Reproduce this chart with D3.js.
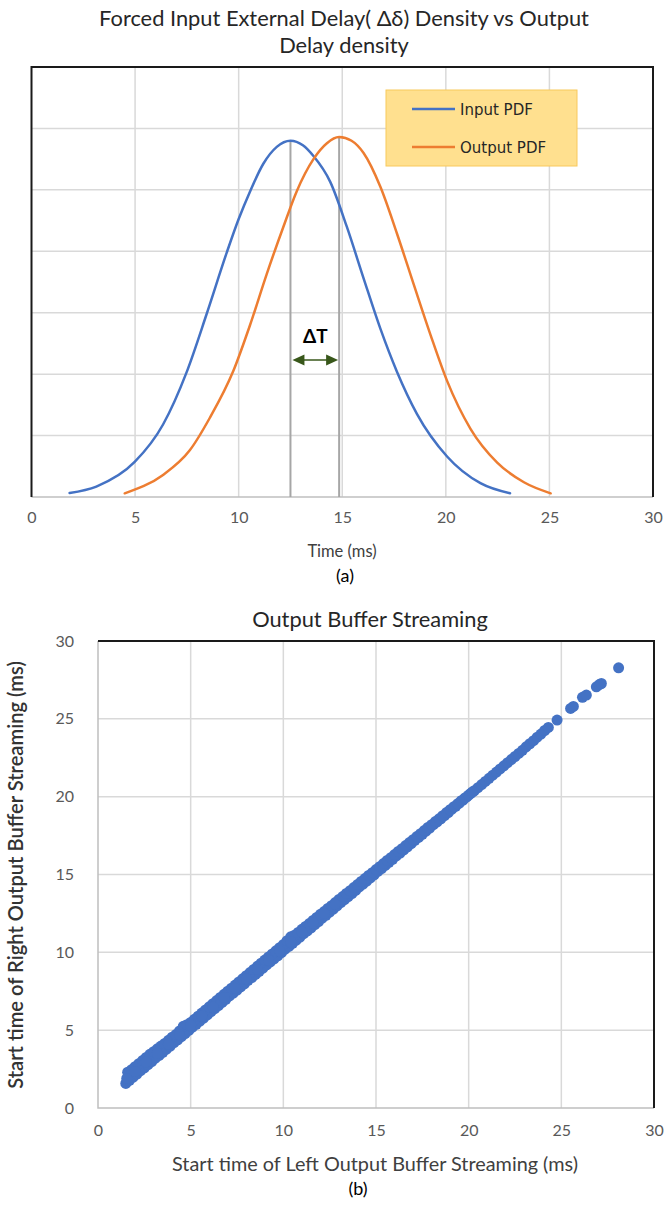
<!DOCTYPE html>
<html>
<head>
<meta charset="utf-8">
<script src="https://cdn.jsdelivr.net/npm/d3@7"></script>
<style>
  html, body { margin: 0; padding: 0; background: #ffffff; }
  svg { display: block; font-family: Lato, "Open Sans", sans-serif; }
</style>
</head>
<body>
<svg id="chart" width="667" height="1205"></svg>
<script>
// ---------------- DATA ----------------
const titleTopLines = ["Forced Input External Delay( \u0394\u03B4) Density vs Output", "Delay density"];
const titleBottom = "Output Buffer Streaming";
const xTitleTop = "Time (ms)";
const xTitleBottom = "Start time of Left Output Buffer Streaming (ms)";
const yTitleBottom = "Start time of Right Output Buffer Streaming (ms)";
const captions = ["(a)", "(b)"];
const seriesNames = ["Input PDF", "Output PDF"];

const timeTicks = [0, 5, 10, 15, 20, 25, 30];
const densityGrid = [0.02, 0.04, 0.06, 0.08, 0.10, 0.12];
const bufferTicks = [0, 5, 10, 15, 20, 25, 30];

const inputTime    = [1.84, 3.13, 4.98, 6.35, 7.48, 8.45, 9.42, 10.0, 10.55, 11.19, 11.84, 12.5, 13.1, 13.61, 14.42, 15.22, 16.03, 16.84, 17.64, 18.61, 20.06, 21.67, 23.1];
const inputDensity = [0.0013, 0.0034, 0.0114, 0.0236, 0.0405, 0.0595, 0.0795, 0.0905, 0.0995, 0.1085, 0.1140, 0.1160, 0.1145, 0.1110, 0.1026, 0.0880, 0.0712, 0.0548, 0.0408, 0.0270, 0.0132, 0.0045, 0.0012];

const outputTime    = [4.5, 6.35, 7.64, 8.61, 9.74, 10.55, 11.35, 12.16, 12.8, 13.61, 14.26, 14.85, 15.45, 16.03, 16.84, 17.64, 18.45, 19.26, 20.06, 21.19, 22.48, 23.77, 25.06];
const outputDensity = [0.0012, 0.0072, 0.0152, 0.0258, 0.0410, 0.0560, 0.0725, 0.0880, 0.0995, 0.1100, 0.1152, 0.1172, 0.1160, 0.1120, 0.1010, 0.0858, 0.0692, 0.0528, 0.0378, 0.0222, 0.0112, 0.0048, 0.0012];

const peakTimes = [12.5, 14.85];   // input peak, output peak (ΔT)
const deltaLabel = "\u0394T";

// [left start, right start] (ms) read along the streaming band
const bufferStarts = [
  // lower edge of the band
  [1.5,1.58],[1.7,1.78],[1.9,1.98],[2.1,2.18],[2.3,2.4],[2.5,2.58],[2.7,2.78],[2.9,2.98],[3.1,3.2],[3.3,3.38],
  [3.5,3.58],[3.7,3.78],[3.9,3.98],[4.1,4.2],[4.3,4.38],[4.5,4.58],[4.7,4.78],[4.9,4.98],[5.1,5.2],[5.3,5.38],
  [5.5,5.58],[5.7,5.78],[5.9,5.98],[6.1,6.2],[6.3,6.38],[6.5,6.58],[6.7,6.78],[6.9,6.98],[7.1,7.2],[7.3,7.38],
  [7.5,7.58],[7.7,7.78],[7.9,7.98],[8.1,8.2],[8.3,8.38],[8.5,8.58],[8.7,8.78],[8.9,8.98],[9.1,9.2],[9.3,9.38],
  [9.5,9.58],[9.7,9.78],[9.9,9.98],[10.1,10.2],[10.3,10.38],[10.5,10.58],[10.7,10.78],[10.9,10.98],[11.1,11.2],[11.3,11.38],
  [11.5,11.58],[11.7,11.78],[11.9,11.98],[12.1,12.2],[12.3,12.38],[12.5,12.58],[12.7,12.78],[12.9,12.98],[13.1,13.2],[13.3,13.38],
  [13.5,13.58],[13.7,13.78],[13.9,13.98],[14.1,14.2],[14.3,14.38],[14.5,14.58],[14.7,14.78],[14.9,14.98],[15.1,15.2],[15.3,15.38],
  [15.5,15.58],[15.7,15.78],[15.9,15.98],[16.1,16.2],[16.3,16.38],[16.5,16.58],[16.7,16.78],[16.9,16.98],[17.1,17.2],[17.3,17.38],
  [17.5,17.58],[17.7,17.78],[17.9,17.98],[18.1,18.2],[18.3,18.38],[18.5,18.58],[18.7,18.78],[18.9,18.98],[19.1,19.2],[19.3,19.38],
  [19.5,19.58],[19.7,19.78],[19.9,19.98],[20.1,20.2],[20.3,20.38],[20.5,20.58],[20.7,20.78],[20.9,20.98],[21.1,21.18],
  // upper edge of the band
  [1.6,2.3],[1.8,2.45],[2.0,2.65],[2.2,2.85],[2.4,3.05],[2.6,3.25],[2.8,3.45],[3.0,3.62],[3.2,3.8],[3.4,3.98],
  [3.6,4.15],[3.8,4.35],[4.0,4.55],[4.2,4.72],[4.4,4.95],[4.6,5.25],[4.8,5.35],[5.0,5.5],[5.2,5.7],[5.4,5.9],
  [5.6,6.1],[5.8,6.3],[6.0,6.5],[6.2,6.7],[6.4,6.9],[6.6,7.1],[6.8,7.3],[7.0,7.5],[7.2,7.7],[7.4,7.9],
  [7.6,8.1],[7.8,8.3],[8.0,8.5],[8.2,8.7],[8.4,8.9],[8.6,9.1],[8.8,9.3],[9.0,9.5],[9.2,9.7],[9.4,9.9],
  [9.6,10.1],[9.8,10.3],[10.0,10.5],[10.2,10.75],[10.4,11.0],[10.6,11.1],[10.8,11.28],[11.0,11.48],[11.2,11.66],[11.4,11.85],
  [11.6,12.05],[11.8,12.24],[12.0,12.44],[12.2,12.62],[12.4,12.82],[12.6,13.0],[12.8,13.2],[13.0,13.4],[13.2,13.58],[13.4,13.78],
  [13.6,13.96],[13.8,14.16],[14.0,14.35],[14.2,14.55],[14.4,14.74],[14.6,14.94],[14.8,15.12],[15.0,15.32],[15.2,15.5],[15.4,15.7],
  [15.6,15.9],[15.8,16.08],[16.0,16.28],[16.2,16.48],[16.4,16.66],[16.6,16.86],[16.8,17.05],[17.0,17.24],[17.2,17.44],[17.4,17.62],
  [17.6,17.82],[17.8,18.02],[18.0,18.2],[18.2,18.4],[18.4,18.58],[18.6,18.78],[18.8,18.98],[19.0,19.16],[19.2,19.36],[19.4,19.54],
  [19.6,19.74],[19.8,19.92],[20.0,20.1],[20.2,20.3],
  // inner points of the wide lower part
  [1.55,1.9],[2.0,2.35],[2.6,2.95],[3.2,3.5],[3.8,4.1],[4.4,4.7],[5.0,5.3],[5.6,5.9],[6.2,6.5],[6.8,7.1],
  [7.4,7.7],[8.0,8.3],[8.6,8.9],[9.2,9.5],[9.8,10.1],[10.4,10.7],[11.0,11.3],[11.6,11.9],[12.2,12.5],[12.8,13.1],
  // single-dot run and sparse tail
  [21.3,21.38],[21.5,21.58],[21.7,21.78],[21.9,21.98],[22.1,22.18],[22.3,22.38],[22.5,22.58],[22.7,22.78],[22.9,22.98],[23.1,23.2],
  [23.3,23.4],[23.5,23.6],[23.7,23.82],[23.9,24.02],[24.1,24.25],[24.3,24.45],
  [24.77,24.92],[25.5,25.67],[25.65,25.8],[26.14,26.38],[26.35,26.53],[26.89,27.06],[27.05,27.2],[27.16,27.27],[28.09,28.28]
];

// ---------------- DRAWING ----------------
const svg = d3.select("#chart");
const BLUE = "#4472C4", ORANGE = "#ED7D31", GRID = "#d9d9d9", AXIS = "#bfbfbf", LABEL = "#595959";

function fitText(sel, target) {
  const n = sel.node();
  const w = n.getComputedTextLength();
  const fs = parseFloat(sel.attr("font-size"));
  sel.attr("font-size", (fs * target / w).toFixed(2));
}

// ===== Chart (a) =====
const xA = d3.scaleLinear().domain([0, 30]).range([31.5, 653]);
const yA = d3.scaleLinear().domain([0, 0.14]).range([497, 67]);

const t1 = svg.append("text").attr("x", 344).attr("y", 26).attr("text-anchor", "middle")
  .attr("font-size", 19).attr("fill", "#262626").text(titleTopLines[0]);
fitText(t1, 490);
svg.append("text").attr("x", 344).attr("y", 53).attr("text-anchor", "middle")
  .attr("font-size", t1.attr("font-size")).attr("fill", "#262626").text(titleTopLines[1]);

const gA = svg.append("g");
gA.selectAll(".vg").data(timeTicks.slice(1, -1)).join("line")
  .attr("x1", d => xA(d)).attr("x2", d => xA(d)).attr("y1", yA(0.14)).attr("y2", yA(0))
  .attr("stroke", GRID).attr("stroke-width", 1.5);
gA.selectAll(".hg").data(densityGrid).join("line")
  .attr("x1", xA(0)).attr("x2", xA(30)).attr("y1", d => yA(d)).attr("y2", d => yA(d))
  .attr("stroke", GRID).attr("stroke-width", 1.5);
gA.append("line").attr("x1", xA(0)).attr("x2", xA(30)).attr("y1", yA(0)).attr("y2", yA(0))
  .attr("stroke", AXIS).attr("stroke-width", 1.5);
gA.append("path")
  .attr("d", `M${xA(0)},${yA(0)}V${yA(0.14)}H${xA(30)}V${yA(0)}`)
  .attr("fill", "none").attr("stroke", "#1a1a1a").attr("stroke-width", 2);

const axA = svg.append("g").attr("transform", `translate(0,${yA(0) + 15})`)
  .call(d3.axisBottom(xA).tickValues(timeTicks).tickSize(0).tickPadding(0));
axA.select(".domain").remove();
axA.selectAll("text").style("font-family", "Lato").attr("font-size", 16).attr("fill", LABEL);

svg.append("text").attr("x", 342).attr("y", 557).attr("text-anchor", "middle")
  .attr("font-size", 16.5).attr("fill", "#404040").text(xTitleTop);
svg.append("text").attr("x", 345).attr("y", 582).attr("text-anchor", "middle")
  .attr("font-size", 18).attr("fill", "#000").text(captions[0]);

// peak marker lines
const inPeakD = d3.max(inputDensity), outPeakD = d3.max(outputDensity);
gA.selectAll(".pk").data([[peakTimes[0], inPeakD], [peakTimes[1], outPeakD]]).join("line")
  .attr("x1", d => xA(d[0])).attr("x2", d => xA(d[0]))
  .attr("y1", d => yA(d[1])).attr("y2", yA(0))
  .attr("stroke", "#a6a6a6").attr("stroke-width", 2);

// curves
const lineGen = d3.line().x(d => xA(d[0])).y(d => yA(d[1])).curve(d3.curveMonotoneX);
gA.append("path").datum(d3.zip(inputTime, inputDensity)).attr("d", lineGen)
  .attr("fill", "none").attr("stroke", BLUE).attr("stroke-width", 2.5).attr("stroke-linecap", "round");
gA.append("path").datum(d3.zip(outputTime, outputDensity)).attr("d", lineGen)
  .attr("fill", "none").attr("stroke", ORANGE).attr("stroke-width", 2.5).attr("stroke-linecap", "round");

// ΔT annotation
const GREEN = "#38571A";
const ay = 360;
const ax1 = xA(peakTimes[0]) + 2, ax2 = xA(peakTimes[1]) - 1;
gA.append("line").attr("x1", ax1 + 8).attr("x2", ax2 - 8).attr("y1", ay).attr("y2", ay)
  .attr("stroke", GREEN).attr("stroke-width", 1.5);
gA.append("path").attr("d", `M${ax1},${ay}L${ax1 + 12},${ay - 5.5}L${ax1 + 12},${ay + 5.5}Z`).attr("fill", GREEN);
gA.append("path").attr("d", `M${ax2},${ay}L${ax2 - 12},${ay - 5.5}L${ax2 - 12},${ay + 5.5}Z`).attr("fill", GREEN);
svg.append("text").attr("x", (ax1 + ax2) / 2).attr("y", 343).attr("text-anchor", "middle")
  .attr("font-size", 19).attr("font-weight", "bold").attr("fill", "#000").text(deltaLabel);

// legend
const lg = svg.append("g");
lg.append("rect").attr("x", 386).attr("y", 90).attr("width", 191).attr("height", 76)
  .attr("fill", "#FFE08F").attr("stroke", "#F8C95C").attr("stroke-width", 1);
[BLUE, ORANGE].forEach((c, i) => {
  const yy = 109 + i * 38;
  lg.append("line").attr("x1", 412).attr("x2", 455).attr("y1", yy).attr("y2", yy)
    .attr("stroke", c).attr("stroke-width", 2.5);
  lg.append("text").attr("x", 460).attr("y", yy + 5.5)
    .style("font-family", "'DejaVu Sans'").attr("font-size", 15).attr("fill", "#262626").text(seriesNames[i]);
});

// ===== Chart (b) =====
const xB = d3.scaleLinear().domain([0, 30]).range([98, 654]);
const yB = d3.scaleLinear().domain([0, 30]).range([1108, 641]);

svg.append("text").attr("x", 370).attr("y", 627).attr("text-anchor", "middle")
  .attr("font-size", t1.attr("font-size")).attr("fill", "#262626").text(titleBottom);

const gB = svg.append("g");
gB.selectAll(".vg").data(bufferTicks.slice(1, -1)).join("line")
  .attr("x1", d => xB(d)).attr("x2", d => xB(d)).attr("y1", yB(30)).attr("y2", yB(0))
  .attr("stroke", GRID).attr("stroke-width", 1.5);
gB.selectAll(".hg").data(bufferTicks.slice(1, -1)).join("line")
  .attr("x1", xB(0)).attr("x2", xB(30)).attr("y1", d => yB(d)).attr("y2", d => yB(d))
  .attr("stroke", GRID).attr("stroke-width", 1.5);
gB.append("path").attr("d", `M${xB(0)},${yB(30)}V${yB(0)}H${xB(30)}`)
  .attr("fill", "none").attr("stroke", AXIS).attr("stroke-width", 1.5);
gB.append("path").attr("d", `M${xB(0)},${yB(30)}H${xB(30)}V${yB(0)}`)
  .attr("fill", "none").attr("stroke", "#1a1a1a").attr("stroke-width", 2);

const axBx = svg.append("g").attr("transform", `translate(0,${yB(0) + 17})`)
  .call(d3.axisBottom(xB).tickValues(bufferTicks).tickSize(0).tickPadding(0));
axBx.select(".domain").remove();
axBx.selectAll("text").style("font-family", "Lato").attr("font-size", 16).attr("fill", LABEL);

const axBy = svg.append("g").attr("transform", `translate(${xB(0) - 24},0)`)
  .call(d3.axisLeft(yB).tickValues(bufferTicks).tickSize(0).tickPadding(0));
axBy.select(".domain").remove();
axBy.selectAll("text").style("font-family", "Lato").attr("font-size", 16).attr("fill", LABEL);

const xtB = svg.append("text").attr("x", 375).attr("y", 1171).attr("text-anchor", "middle")
  .attr("font-size", 15.5).attr("fill", "#404040").text(xTitleBottom);
fitText(xtB, 406);
const ytB = svg.append("text").attr("transform", "translate(23,875) rotate(-90)").attr("text-anchor", "middle")
  .attr("font-size", 15.5).attr("fill", "#333").attr("font-weight", 600).text(yTitleBottom);
fitText(ytB, 428);
svg.append("text").attr("x", 358).attr("y", 1195).attr("text-anchor", "middle")
  .attr("font-size", 18).attr("fill", "#000").text(captions[1]);

gB.selectAll("circle").data(bufferStarts).join("circle")
  .attr("cx", d => xB(d[0])).attr("cy", d => yB(d[1])).attr("r", 5.5)
  .attr("fill", BLUE);
</script>
</body>
</html>
